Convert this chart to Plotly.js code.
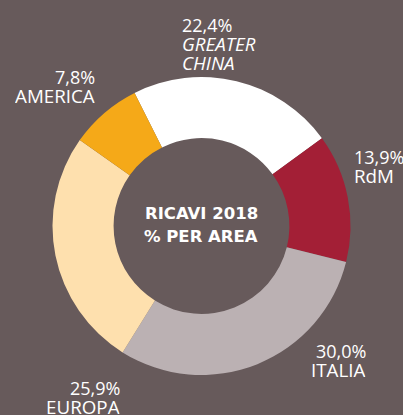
<!DOCTYPE html>
<html>
<head>
<meta charset="utf-8">
<script src="https://cdn.plot.ly/plotly-3.0.1.min.js"></script>
<style>html,body{margin:0;padding:0;background:#675a5b;}#chart{width:403px;height:415px;}</style>
</head>
<body>
<div id="chart"></div>
<script>
// Data
const areas = ['GREATER CHINA', 'RdM', 'ITALIA', 'EUROPA', 'AMERICA'];
const shares = [22.4, 13.9, 30.0, 25.9, 7.8];
const centerTitle = ['RICAVI 2018', '% PER AREA'];

// Styles
const sliceColors = ['#ffffff', '#a31f36', '#bbb1b3', '#fee0ae', '#f5a918'];
const bg = '#675a5b';
const W = 403, H = 415;
// label anchor positions in pixels (first line cap-centre), alignment, italic name
const labelPos = [
  {x: 180, y: 24.5, align: 'left', italic: true},
  {x: 352, y: 156.5, align: 'left', italic: false},
  {x: 368, y: 350.5, align: 'right', italic: false},
  {x: 122.5, y: 387.5, align: 'right', italic: false},
  {x: 97, y: 76.5, align: 'right', italic: false}
];
const lineStep = 19.3;
const numFont = {family: 'Open Sans', size: 18, color: '#ffffff'};
const nameFont = {family: 'Open Sans', size: 18.8, color: '#ffffff'};

const fmt = v => v.toFixed(1).replace('.', ',') + '%';

const annotations = [];
areas.forEach((name, i) => {
  const p = labelPos[i];
  const lines = [fmt(shares[i])].concat(name.split(' ').map(s => p.italic ? '<i>' + s + '</i>' : s));
  lines.forEach((t, k) => {
    annotations.push({
      text: t, showarrow: false, xref: 'paper', yref: 'paper',
      x: p.x / W, y: 1 - (p.y + k * lineStep) / H,
      xanchor: p.align, yanchor: 'middle', height: 18,
      font: k === 0 ? numFont : nameFont
    });
  });
});
centerTitle.forEach((t, k) => {
  annotations.push({
    text: '<b>' + t + '</b>', showarrow: false, xref: 'paper', yref: 'paper',
    x: 201 / W, y: 1 - (213.5 + k * 23) / H, xanchor: 'center', yanchor: 'middle',
    font: {family: 'DejaVu Sans', size: 16.5, color: '#ffffff'}
  });
});

const cx = 201.5, cy = 226, r = 149;
const trace = {
  type: 'pie',
  labels: areas,
  values: shares,
  sort: false,
  direction: 'clockwise',
  rotation: -26.7,
  hole: 0.59,
  textinfo: 'none',
  hoverinfo: 'label+percent',
  marker: {colors: sliceColors, line: {width: 0}},
  domain: {x: [(cx - r) / W, (cx + r) / W], y: [(H - cy - r) / H, (H - cy + r) / H]},
  showlegend: false
};

Plotly.newPlot('chart', [trace], {
  width: W, height: H,
  margin: {l: 0, r: 0, t: 0, b: 0},
  paper_bgcolor: bg, plot_bgcolor: bg,
  showlegend: false,
  annotations: annotations
}, {displayModeBar: false, staticPlot: true});
</script>
</body>
</html>
